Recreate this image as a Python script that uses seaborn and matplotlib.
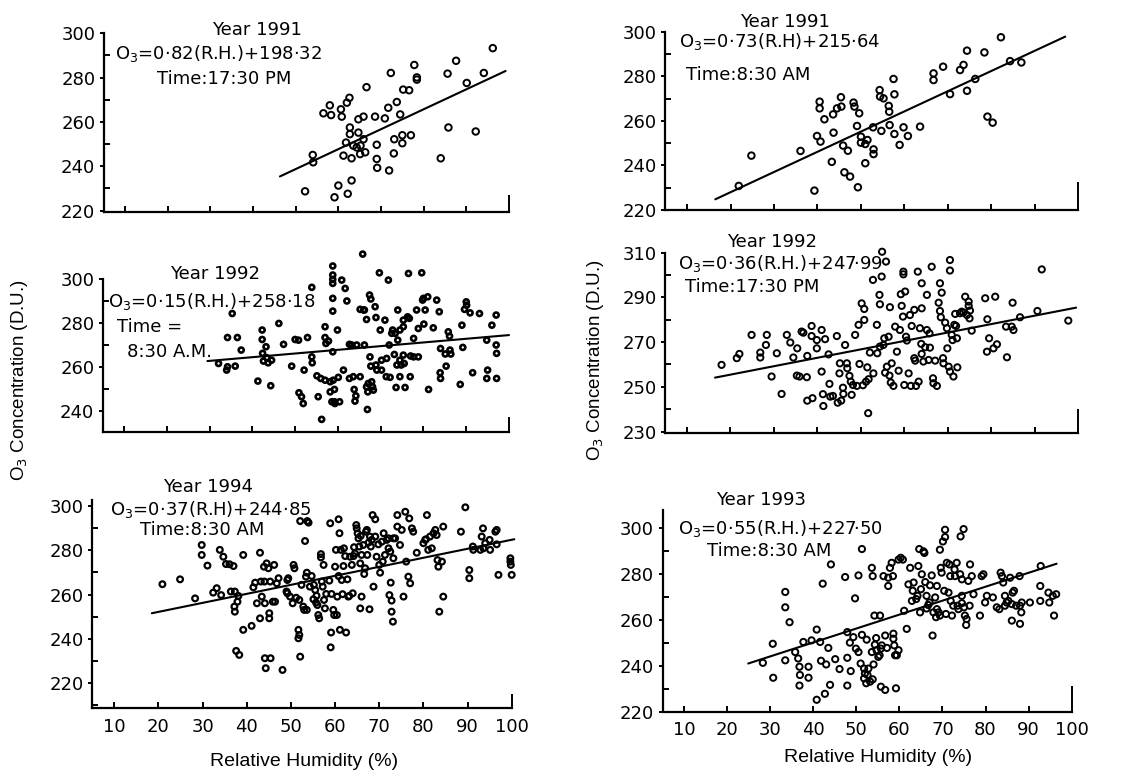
import matplotlib
matplotlib.use("Agg")
import matplotlib.pyplot as plt
import pandas as pd
import seaborn as sns

# ---------------- data (relative humidity %, O3 in D.U.) ----------------
XTICKS = [10, 20, 30, 40, 50, 60, 70, 80, 90, 100]

# Panel A: 1991, 17:30 PM
A_PTS = [(52.2,228.7),(54.0,245.1),(54.1,241.8),(56.5,263.9),(58.0,267.5),(58.3,263.1),(59.1,226.0),
         (60.0,231.3),(60.6,265.7),(60.8,262.4),(61.2,244.8),(62.0,268.7),(62.2,227.6),(62.6,270.9),
         (62.7,257.5),(62.7,254.5),(61.8,250.7),(63.1,243.6),(63.1,233.6),(63.5,249.3),(64.3,248.5),
         (64.7,261.2),(64.7,255.2),(65.1,245.5),(65.2,249.3),(65.9,252.2),(65.9,262.4),(66.3,246.3),
         (66.6,275.7),(68.6,262.4),(69.0,249.7),(69.0,243.3),(69.1,239.3),(70.9,261.6),(71.7,266.4),
         (71.9,238.1),(72.3,282.1),(73.0,245.8),(73.1,252.2),(73.7,269.0),(74.5,263.4),(75.0,250.4),
         (75.0,254.0),(75.2,274.6),(76.6,274.3),(77.0,254.0),(77.8,285.7),(78.4,280.1),(78.4,279.1),
         (84.0,243.6),(85.6,281.8),(85.8,257.5),(87.6,287.6),(90.1,277.6),(92.2,255.7),(94.1,282.1),
         (96.2,293.3)]
A_FIT_X = [46.3, 99.2]
A_FIT_Y = [235.4, 283.0]
A_YTICKS = [220, 240, 260, 280, 300]
A_YMINOR = [230, 250, 270, 290]

# Panel B: 1991, 8:30 AM
B_PTS = [(21.9,230.8),(24.8,244.4),(36.1,246.5),(39.3,228.7),(40.5,268.6),(40.5,265.6),(39.9,253.2),
         (40.7,250.7),(41.6,260.7),(43.3,241.6),(43.7,254.7),(43.6,262.9),(44.5,265.6),(45.5,266.4),
         (45.4,270.6),(45.9,248.9),(46.2,236.9),(47.0,246.6),(47.5,235.0),(48.3,268.2),(48.5,266.4),
         (49.1,257.7),(49.6,263.4),(49.3,230.2),(50.0,252.9),(50.0,250.2),(51.0,241.0),(51.0,249.6),
         (51.5,251.4),(52.9,247.2),(52.9,245.1),(52.8,257.1),(54.3,273.8),(54.4,270.9),(54.7,255.5),
         (55.2,270.1),(56.4,266.7),(56.5,264.1),(56.6,258.1),(57.5,278.8),(57.7,271.9),(57.7,254.1),
         (58.9,249.2),(59.8,257.1),(60.8,253.2),(63.6,257.4),(66.7,281.3),(66.7,278.3),(68.9,284.3),
         (70.5,272.0),(72.8,282.8),(73.6,285.1),(74.4,291.5),(74.4,273.5),(76.3,278.8),(78.4,290.7),
         (79.1,261.9),(80.3,259.2),(82.2,297.5),(84.3,286.8),(86.9,286.2)]
B_FIT_X = [16.5, 97.0]
B_FIT_Y = [224.8, 297.8]
B_YTICKS = [220, 240, 260, 280, 300]
B_YMINOR = [230, 250, 270, 290]

# Panel C: 1992, 8:30 AM
C_PTS = [(32.1,261.8),(34.2,273.6),(34.2,260.3),(34.0,258.8),(35.3,284.5),(36.5,273.6),(36.0,260.6),
         (37.4,267.9),(41.3,253.8),(42.3,277.0),(42.3,272.7),(42.4,266.4),(42.6,262.9),(43.2,269.4),
         (43.4,264.4),(43.7,262.1),(44.3,251.7),(44.5,263.3),(46.2,280.0),(47.3,270.5),(49.2,260.6),
         (50.0,272.7),(50.8,272.4),(50.9,248.5),(51.5,246.7),(51.9,243.6),(52.1,258.8),(52.9,273.6),
         (53.9,296.4),(53.9,264.8),(54.0,262.1),(55.1,256.2),(56.0,255.0),(56.2,236.4),(55.4,246.7),
         (57.0,278.5),(57.0,273.6),(57.2,270.9),(57.0,254.2),(57.8,272.0),(58.2,253.5),(58.2,248.9),
         (58.8,306.1),(58.8,302.0),(58.8,300.0),(58.8,298.2),(58.8,291.4),(58.8,285.6),(58.8,267.1),
         (58.9,254.2),(59.2,250.0),(59.2,244.4),(58.6,244.4),(59.3,243.6),(59.9,277.0),(60.1,255.5),
         (60.4,244.4),(60.9,299.7),(61.3,258.8),(61.7,295.9),(62.1,290.2),(62.7,270.5),(62.7,255.0),
         (63.2,270.2),(63.6,255.8),(64.0,244.7),(63.8,250.0),(64.2,247.1),(64.4,270.2),(65.2,255.8),
         (65.2,286.4),(65.8,311.5),(66.0,286.1),(66.2,270.2),(66.2,286.1),(66.7,281.8),(66.9,240.9),
         (66.7,251.2),(67.0,248.9),(67.1,252.7),(67.4,292.9),(67.7,291.1),(67.5,264.8),(67.7,260.6),
         (67.9,253.5),(68.1,251.2),(68.3,249.7),(68.7,287.6),(68.9,282.7),(68.9,261.1),(69.1,258.8),
         (69.7,303.0),(69.9,277.0),(70.2,258.8),(70.2,263.3),(71.0,281.5),(71.3,255.8),(71.4,264.1),
         (71.8,299.7),(72.0,270.2),(72.2,255.5),(72.6,275.5),(72.8,277.0),(73.2,265.9),(73.4,275.5),
         (73.6,250.9),(73.8,261.1),(74.0,286.1),(74.0,272.4),(74.5,277.0),(74.5,263.3),(74.8,261.1),
         (74.5,255.8),(75.3,281.5),(75.3,278.5),(75.3,265.6),(75.5,261.8),(75.7,250.9),(76.3,283.0),
         (76.5,302.7),(76.9,255.8),(76.7,282.3),(77.0,265.2),(77.7,273.2),(77.7,264.8),(78.4,286.1),
         (78.8,277.7),(78.8,264.8),(79.6,303.0),(79.8,290.6),(80.0,291.4),(80.1,279.7),(80.4,286.1),
         (81.0,292.1),(81.2,250.0),(82.3,278.0),(83.1,290.6),(83.7,285.3),(83.9,257.6),(84.0,268.6),
         (84.0,255.0),(85.1,266.1),(85.3,260.6),(85.8,276.2),(86.1,274.2),(86.2,267.9),(86.4,266.1),
         (88.6,252.3),(89.0,279.2),(89.2,269.1),(89.6,286.4),(90.0,289.8),(90.1,288.3),(90.9,284.8),
         (91.5,257.6),(93.1,284.5),(94.8,272.4),(95.0,258.8),(94.8,255.0),(96.0,279.2),(97.0,283.8),
         (97.0,270.2),(97.1,266.4),(97.1,255.0)]
C_FIT_X = [29.5, 100.0]
C_FIT_Y = [262.9, 274.7]
C_YTICKS = [240, 260, 280, 300]
C_YMINOR = [250, 270, 290]

# Panel D: 1992, 17:30 PM
D_PTS = [(18.0,259.8),(21.5,262.8),(22.1,264.7),(24.9,273.2),(26.9,265.3),(26.9,263.1),(28.2,268.7),
         (28.4,273.2),(29.5,254.6),(30.7,265.0),(31.8,246.8),(33.0,273.2),(33.8,269.8),(34.5,263.1),
         (35.4,267.2),(35.3,255.0),(35.9,254.6),(36.4,274.7),(36.8,274.2),(37.6,254.3),(37.7,263.8),
         (37.7,243.8),(38.7,277.2),(38.7,272.7),(38.9,244.9),(39.9,267.2),(39.9,270.9),(41.0,275.4),
         (41.0,256.8),(41.3,246.7),(41.8,271.3),(41.4,241.4),(42.6,264.5),(42.8,251.3),(43.0,245.6),
         (43.6,245.9),(44.5,272.7),(44.7,242.9),(45.1,256.0),(45.2,260.5),(45.5,243.8),(45.9,249.6),
         (46.0,246.8),(46.4,268.7),(46.8,260.5),(46.9,258.3),(47.4,254.9),(47.7,252.3),(47.9,246.4),
         (48.2,250.8),(48.7,273.2),(49.1,250.4),(49.5,277.7),(49.7,260.2),(50.2,287.3),(50.5,250.7),
         (50.8,284.8),(50.8,279.9),(51.2,252.3),(51.5,258.7),(51.7,238.2),(51.8,253.4),(52.1,265.3),
         (52.8,297.8),(52.9,256.0),(53.7,277.7),(53.8,265.0),(54.3,291.1),(54.4,286.9),(54.4,268.0),
         (54.8,299.3),(54.9,310.4),(55.2,268.7),(55.4,271.7),(55.8,306.0),(55.6,256.3),(56.0,259.0),
         (56.4,272.4),(56.6,255.0),(56.9,251.9),(56.7,285.6),(57.1,260.5),(57.5,250.4),(57.9,276.9),
         (58.3,265.7),(58.7,257.2),(59.0,275.4),(59.2,291.4),(59.4,286.2),(59.7,281.4),(59.8,301.5),
         (59.8,300.3),(60.0,250.8),(60.2,292.6),(60.4,272.4),(60.6,270.7),(61.0,256.0),(61.3,282.1),
         (61.5,250.4),(61.7,277.2),(62.3,284.4),(62.3,262.8),(62.5,261.7),(62.7,250.4),(63.1,301.5),
         (63.3,252.3),(63.6,276.2),(63.9,269.2),(64.0,296.3),(64.0,285.1),(64.0,264.7),(64.4,261.3),
         (64.8,267.7),(65.2,291.1),(65.2,275.4),(65.6,262.0),(65.8,273.9),(65.9,267.5),(66.3,303.7),
         (66.6,253.8),(66.7,251.6),(67.1,261.7),(67.5,250.4),(67.9,287.6),(68.2,296.3),(68.2,283.9),
         (68.4,281.1),(68.6,292.1),(68.9,262.8),(69.0,260.5),(69.4,278.7),(69.8,276.2),(69.9,267.2),
         (70.2,259.0),(70.5,306.7),(70.5,302.0),(70.5,256.8),(70.9,273.2),(71.1,270.9),(71.3,254.6),
         (71.5,277.7),(71.7,282.6),(71.9,277.2),(72.1,271.7),(72.2,258.7),(72.8,282.9),(73.2,283.6),
         (73.6,283.2),(74.0,290.3),(74.4,282.1),(74.8,286.2),(74.8,288.1),(75.0,280.6),(75.1,284.1),
         (75.5,275.1),(78.6,289.6),(79.0,265.7),(79.1,280.2),(79.5,271.7),(80.5,267.2),(80.9,290.3),
         (81.3,269.0),(83.6,263.2),(83.4,276.9),(84.7,276.9),(84.9,287.6),(85.1,275.4),(86.6,281.1),
         (90.6,283.9),(91.6,302.5),(97.7,279.6)]
D_FIT_X = [16.5, 99.5]
D_FIT_Y = [254.1, 285.4]
D_YTICKS = [230, 250, 270, 290, 310]
D_YMINOR = [240, 260, 280, 300]

# Panel E: 1994, 8:30 AM
E_PTS = [(20.9,264.7),(24.9,266.9),(28.3,258.3),(29.8,282.4),(29.8,277.9),(31.1,273.1),(32.4,260.9),
         (33.2,262.9),(33.9,280.2),(34.2,259.8),(34.7,277.1),(35.3,273.8),(36.1,273.7),(36.4,261.4),
         (37.0,272.9),(37.3,261.4),(37.2,254.6),(37.3,252.3),(37.6,234.6),(38.3,232.8),(38.1,259.4),
         (37.9,256.8),(39.2,244.1),(39.2,277.9),(41.1,245.9),(41.5,263.3),(41.9,265.4),(42.3,256.1),
         (43.0,278.9),(43.2,265.9),(43.4,259.1),(43.0,249.3),(44.1,256.1),(44.0,265.9),(43.9,272.6),
         (44.1,231.3),(44.3,226.8),(44.5,274.1),(44.9,271.9),(45.1,251.6),(45.1,249.3),(45.3,265.9),
         (45.4,231.3),(45.9,256.8),(46.2,273.4),(46.4,256.8),(46.8,265.1),(47.2,267.4),(48.1,226.0),
         (49.0,261.4),(49.2,266.6),(49.4,267.4),(49.2,260.6),(49.8,259.1),(50.4,256.1),(50.6,273.4),
         (50.8,271.9),(51.2,258.6),(51.7,244.1),(51.9,241.8),(51.7,240.3),(52.1,232.0),(51.9,257.6),
         (52.1,293.2),(52.4,264.4),(52.8,254.6),(53.0,253.1),(53.2,284.2),(53.4,268.1),(53.6,269.9),
         (53.6,253.1),(53.7,293.2),(54.0,292.5),(54.3,263.6),(54.7,268.4),(55.1,257.9),(55.2,264.4),
         (55.5,262.1),(55.8,259.5),(55.7,256.4),(56.0,255.3),(56.2,250.8),(56.4,249.3),(56.8,278.3),
         (56.8,276.8),(57.0,265.9),(57.2,263.6),(57.4,273.4),(57.5,257.6),(57.7,253.8),(58.0,260.3),
         (58.7,266.3),(58.9,292.2),(59.1,242.9),(59.0,236.2),(59.2,260.3),(59.6,253.1),(59.8,250.8),
         (60.0,272.6),(60.2,280.2),(60.4,250.8),(60.5,259.1),(60.8,268.4),(60.8,294.0),(61.0,287.7),
         (61.1,244.1),(61.3,280.2),(61.5,266.6),(61.7,260.2),(61.9,272.9),(62.0,280.9),(62.3,277.4),
         (62.5,242.9),(62.8,266.9),(63.0,259.1),(63.2,259.4),(63.4,277.1),(63.8,273.4),(64.0,260.6),
         (64.2,277.4),(64.3,281.4),(64.5,278.6),(64.8,291.4),(64.9,289.9),(65.1,287.7),(65.3,285.4),
         (65.5,281.7),(65.7,274.1),(65.7,253.8),(65.8,286.5),(66.0,259.1),(66.0,277.9),(66.4,282.4),
         (66.6,269.3),(66.8,271.9),(67.0,288.4),(67.2,289.2),(67.3,277.9),(67.6,283.5),(67.8,253.4),
         (67.9,286.2),(68.1,281.7),(68.3,284.7),(68.5,295.9),(68.7,263.6),(69.1,294.0),(69.1,286.2),
         (69.4,277.1),(69.8,282.7),(70.0,273.4),(70.2,269.9),(70.6,283.9),(70.8,274.9),(71.0,287.7),
         (71.3,277.9),(71.7,284.7),(72.1,285.4),(72.1,280.9),(72.3,259.8),(72.5,279.4),(72.8,257.3),
         (72.8,252.3),(73.1,247.8),(72.6,265.4),(73.2,276.4),(73.2,285.4),(73.6,285.4),(74.1,295.9),
         (74.1,290.7),(74.7,282.4),(75.1,289.2),(75.5,259.1),(75.9,297.4),(76.1,274.9),(76.6,268.1),
         (76.8,294.4),(77.0,265.1),(77.4,289.9),(77.7,288.4),(78.5,278.9),(80.0,283.2),(80.4,284.7),
         (80.6,285.0),(80.8,295.9),(81.1,280.2),(81.5,286.2),(81.9,280.9),(82.3,287.7),(82.7,289.2),
         (83.0,286.9),(83.2,275.6),(83.4,272.6),(83.6,252.3),(84.2,274.9),(84.5,259.1),(84.5,290.7),
         (88.5,288.4),(89.5,299.4),(90.4,271.1),(90.4,267.4),(91.2,281.7),(91.3,280.2),(92.9,280.2),
         (93.2,286.2),(93.5,289.9),(93.6,280.9),(94.0,283.2),(95.0,284.7),(95.1,280.2),(96.3,288.4),
         (96.6,289.2),(96.6,282.7),(97.0,268.9),(99.7,276.4),(99.8,273.4),(100.0,268.9),(99.7,274.9)]
E_FIT_X = [18.5, 100.6]
E_FIT_Y = [251.6, 285.0]
E_YTICKS = [220, 240, 260, 280, 300]
E_YMINOR = [210, 230, 250, 270, 290]

# Panel F: 1993, 8:30 AM
F_PTS = [(28.3,241.3),(30.6,249.6),(30.7,234.8),(33.5,272.2),(33.5,265.5),(33.5,242.4),(34.5,259.0),
         (35.8,246.0),(36.5,243.2),(36.8,239.6),(36.9,236.0),(36.8,231.4),(37.7,250.4),(38.9,239.6),
         (38.9,234.8),(39.6,251.1),(40.8,255.8),(40.8,225.2),(41.6,250.4),(41.8,242.2),(42.2,275.8),
         (42.7,227.8),(43.0,240.6),(43.5,247.8),(43.9,231.7),(44.1,284.2),(45.1,242.9),(46.1,238.6),
         (47.4,278.7),(47.9,254.7),(47.9,243.5),(47.9,231.4),(48.5,250.1),(48.7,237.7),(49.3,252.5),
         (49.7,269.4),(49.9,247.5),(50.5,279.4),(50.5,246.0),(51.3,290.9),(51.0,241.0),(51.3,253.5),
         (51.8,238.8),(52.0,236.7),(51.8,234.5),(52.3,232.4),(52.4,251.4),(52.6,236.0),(52.8,238.8),
         (53.2,233.1),(53.6,246.0),(53.8,234.1),(53.6,282.7),(53.8,279.1),(54.0,240.6),(54.2,261.9),
         (54.3,249.2),(54.6,252.1),(54.7,246.8),(55.1,243.9),(55.4,244.6),(55.5,261.9),(55.7,230.9),
         (55.7,247.5),(55.9,248.9),(56.3,279.1),(56.7,253.2),(56.7,229.5),(57.1,247.8),(57.4,278.4),
         (57.4,274.8),(57.8,282.7),(58.2,284.9),(58.5,279.1),(58.6,251.8),(58.6,254.0),(58.8,248.9),
         (59.0,244.6),(59.2,230.2),(59.4,244.6),(59.8,246.8),(59.8,286.3),(60.3,287.1),(60.8,286.3),
         (61.1,264.0),(61.7,256.1),(62.1,275.5),(62.5,282.7),(62.9,268.3),(63.1,272.7),(63.3,276.3),
         (63.9,269.1),(64.2,270.5),(64.4,283.5),(64.6,290.9),(64.8,263.3),(65.0,273.4),(65.2,279.9),
         (65.6,289.9),(65.8,289.2),(66.0,276.5),(66.3,270.5),(66.3,265.0),(66.7,266.5),(67.0,267.6),
         (67.1,275.1),(67.5,279.4),(67.7,253.2),(67.9,263.3),(68.3,269.8),(68.5,261.2),(68.7,264.7),
         (68.7,274.8),(69.1,263.3),(69.4,290.6),(69.4,261.9),(69.6,282.7),(69.8,280.6),(70.1,294.2),
         (70.4,272.7),(70.6,299.3),(70.6,296.1),(70.8,262.6),(71.0,284.9),(71.4,271.9),(71.6,284.2),
         (71.8,279.1),(71.9,268.3),(72.2,261.9),(72.5,266.2),(72.8,282.0),(72.9,279.1),(73.3,284.9),
         (73.5,266.2),(73.7,264.7),(74.1,279.9),(74.2,296.4),(74.5,277.7),(74.5,270.5),(74.5,267.3),
         (74.9,299.6),(75.0,265.5),(75.2,261.9),(75.5,257.8),(75.6,260.4),(76.0,277.0),(76.3,266.2),
         (76.4,284.2),(76.8,279.1),(77.2,271.2),(78.7,261.9),(79.1,279.1),(79.5,279.9),(79.9,267.6),
         (80.3,270.5),(81.7,269.8),(82.6,265.5),(83.2,264.7),(83.5,280.6),(83.8,279.1),(84.1,276.3),
         (84.5,266.2),(84.5,270.5),(84.9,267.6),(85.3,268.3),(85.7,278.4),(86.1,266.9),(86.1,259.7),
         (86.3,271.9),(86.6,272.7),(87.1,266.2),(87.9,279.1),(88.0,266.2),(88.0,258.3),(88.3,263.3),
         (88.4,267.6),(90.3,267.6),(92.7,268.3),(92.7,274.8),(92.8,283.5),(94.6,271.9),(94.8,267.6),
         (95.6,270.5),(95.9,261.9),(96.4,271.2)]
F_FIT_X = [24.9, 96.5]
F_FIT_Y = [241.0, 284.5]
F_YTICKS = [220, 240, 260, 280, 300]
F_YMINOR = [230, 250, 270, 290]

# ---------------- style ----------------
sns.set_style("ticks")
plt.rcParams["font.family"] = ["DejaVu Sans"]
plt.rcParams["mathtext.fontset"] = "dejavusans"
for key in ("text.color", "axes.labelcolor", "xtick.color", "ytick.color",
            "axes.edgecolor"):
    plt.rcParams[key] = "black"

fig = plt.figure(figsize=(11.36, 7.72), dpi=100)
W, H = 1136.0, 772.0


def rect(left, right, top, bottom):
    return [left / W, 1 - bottom / H, (right - left) / W, (bottom - top) / H]


def panel(box, pts, fit_x, fit_y, ylim, spine_top, yticks, yminor, s, lw,
          xlabels, end_len, texts):
    ax = fig.add_axes(box)
    df = pd.DataFrame(pts, columns=["rh", "o3"])
    sns.scatterplot(data=df, x="rh", y="o3", ax=ax, marker="o", s=s,
                    color="none", edgecolor="black", linewidth=lw,
                    clip_on=False, zorder=3)
    sns.lineplot(x=fit_x, y=fit_y, ax=ax, color="black", linewidth=1.5,
                 clip_on=False, zorder=2)
    ax.set_xlim(5, 100)
    ax.set_ylim(*ylim)
    sns.despine(ax=ax)
    for sp in ("left", "bottom"):
        ax.spines[sp].set_linewidth(1.6)
        ax.spines[sp].set_color("black")
    ax.spines["left"].set_bounds(ylim[0], spine_top)
    ax.set_xlabel("")
    ax.set_ylabel("")
    ax.set_xticks(XTICKS)
    if xlabels:
        ax.set_xticklabels([str(v) for v in XTICKS], fontsize=13)
    else:
        ax.set_xticklabels([])
    ax.set_yticks(yticks)
    ax.set_yticklabels([str(v) for v in yticks], fontsize=13)
    ax.set_yticks(yminor, minor=True)
    ax.tick_params(axis="x", direction="in", length=4, width=1.4, pad=7,
                   colors="black")
    ax.tick_params(axis="y", which="major", direction="out", length=3,
                   width=1.4, pad=3, colors="black")
    ax.tick_params(axis="y", which="minor", direction="in", length=4,
                   width=1.4, colors="black")
    ax.xaxis.get_major_ticks()[-1].tick1line.set_markersize(end_len)
    for (tx, ty, txt, ha) in texts:
        ax.text(tx, ty, txt, ha=ha, va="center", fontsize=13, color="black",
                clip_on=False)
    return ax


panel(rect(103.7, 509, 33.3, 211.7), A_PTS, A_FIT_X, A_FIT_Y, (219.5, 300), 300,
      A_YTICKS, A_YMINOR, 22, 1.4, False, 12,
      [(40.9, 301.5, "Year 1991", "center"),
       (7.7, 291, "O$_3$=0·82(R.H.)+198·32", "left"),
       (33.2, 279.5, "Time:17:30 PM", "center")])

panel(rect(665.3, 1078.3, 31.7, 210), B_PTS, B_FIT_X, B_FIT_Y, (220, 300), 300,
      B_YTICKS, B_YMINOR, 22, 1.4, False, 20,
      [(32.6, 304.2, "Year 1991", "center"),
       (8.1, 295.5, "O$_3$=0·73(R.H)+215·64", "left"),
       (9.8, 280.6, "Time:8:30 AM", "left")])

panel(rect(102.6, 509, 253, 431.7), C_PTS, C_FIT_X, C_FIT_Y, (230.8, 312), 300,
      C_YTICKS, C_YMINOR, 13, 1.9, False, 11,
      [(31.3, 302.4, "Year 1992", "center"),
       (6.3, 289.8, "O$_3$=0·15(R.H.)+258·18", "left"),
       (8.3, 278.5, "Time =", "left"),
       (10.6, 267.1, "8:30 A.M.", "left")])

panel(rect(665, 1078.3, 250.4, 433.3), D_PTS, D_FIT_X, D_FIT_Y, (229.2, 311), 310,
      D_YTICKS, D_YMINOR, 20, 1.4, False, 17,
      [(29.7, 314.6, "Year 1992", "center"),
       (8.1, 305.2, "O$_3$=0·36(R.H.)+247·99", "left"),
       (9.6, 294.8, "Time:17:30 PM", "left")])

panel(rect(92.2, 511.7, 500, 708.3), E_PTS, E_FIT_X, E_FIT_Y, (208.7, 302.7), 302.7,
      E_YTICKS, E_YMINOR, 17, 1.6, True, 10,
      [(31.3, 308.7, "Year 1994", "center"),
       (9.0, 298.2, "O$_3$=0·37(R.H)+244·85", "left"),
       (15.8, 289.2, "Time:8:30 AM", "left")])

panel(rect(662.5, 1071.7, 509.8, 711.7), F_PTS, F_FIT_X, F_FIT_Y, (220.5, 308), 308,
      F_YTICKS, F_YMINOR, 20, 1.4, True, 19,
      [(27.9, 312.2, "Year 1993", "center"),
       (8.7, 300.0, "O$_3$=0·55(R.H.)+227·50", "left"),
       (15.3, 289.9, "Time:8:30 AM", "left")])

lab_font = dict(family=["Liberation Sans", "DejaVu Sans"], fontsize=13.5,
                color="black")
fig.text(20 / W, 1 - 380 / H, "O$_3$ Concentration (D.U.)", rotation=90,
         ha="center", va="center", **lab_font)
fig.text(595 / W, 1 - 360 / H, "O$_3$ Concentration (D.U.)", rotation=90,
         ha="center", va="center", **lab_font)
fig.text(304 / W, 1 - 762 / H, "Relative Humidity (%)", ha="center",
         va="center", family=["Liberation Sans", "DejaVu Sans"], fontsize=14,
         color="black")
fig.text(878 / W, 1 - 757 / H, "Relative Humidity (%)", ha="center",
         va="center", family=["Liberation Sans", "DejaVu Sans"], fontsize=14,
         color="black")

fig.savefig("out.png", dpi=100)
